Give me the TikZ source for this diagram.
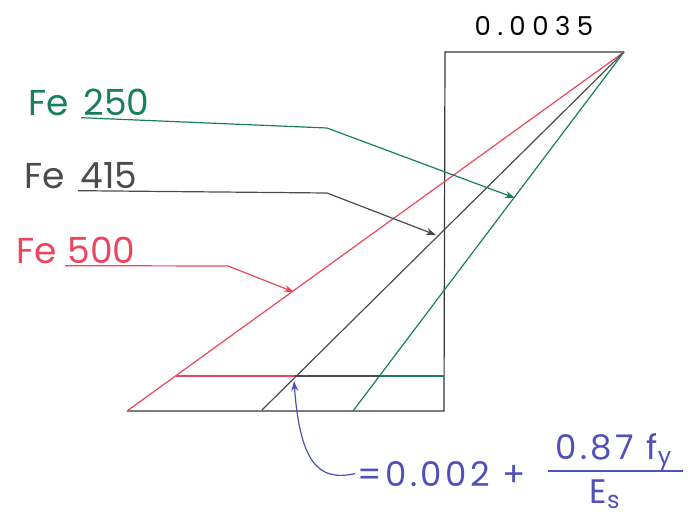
\documentclass[tikz,border=0pt]{standalone}
\usepackage{fontspec}
\setmainfont{Poppins}
\usetikzlibrary{arrows.meta}

\definecolor{feGreen}{RGB}{25,125,95}
\definecolor{feRed}{RGB}{235,70,95}
\definecolor{feGray}{RGB}{75,75,75}
\definecolor{feBlue}{RGB}{80,80,185}

\tikzset{
    grade/.style={font=\fontsize{18}{20}\selectfont, inner sep=1pt},
    strainval/.style={font=\fontsize{13}{15}\selectfont\addfontfeatures{LetterSpace=25}, inner sep=1pt},
    formula/.style={font=\fontsize{17}{19}\selectfont\addfontfeatures{LetterSpace=10}, text=feBlue, inner sep=1pt},
    leader/.style={->, line width=0.6pt},
}

\begin{document}
\begin{tikzpicture}[x=0.5pt, y=-0.5pt, line width=0.6pt, >={Stealth[length=5pt, width=3.5pt]}]

    \useasboundingbox (0,0) rectangle (698,515);

    % 1. Khung bien dang
    \coordinate (apex) at (624,52);
    \coordinate (topL) at (445,52);
    \coordinate (axisB) at (444,411);
    \coordinate (redB) at (127,411);
    \coordinate (grayB) at (262,410);
    \coordinate (greenB) at (353,411);
    \draw[feGray!70!black] (apex) -- (topL) -- (axisB) -- (redB);
    \node[strainval, anchor=base] (eps) at (534,35) {0.0035};

    % 2. Ba duong bien dang
    \draw[feRed] (apex) -- (redB);
    \draw[feGray] (apex) -- (grayB);
    \draw[feGreen] (apex) -- (greenB);

    % 3. Duong ngang tai bien dang chay
    \coordinate (redY) at (176,376);
    \coordinate (grayY) at (295,376);
    \coordinate (greenY) at (380,376);
    \coordinate (axisY) at (444,376);
    \draw[feRed] (redY) -- (grayY);
    \draw[feGray] (grayY) -- (greenY);
    \draw[feGreen] (greenY) -- (axisY);

    % 4. Nhan cac loai thep
    \node[grade, text=feGreen, anchor=base west] (fe250) at (81,115) {250};
    \node[grade, text=feGreen, anchor=base west] (fe250name) at (26,115) {Fe};
    \node[grade, text=feGray, anchor=base west] (fe415) at (78,188) {415};
    \node[grade, text=feGray, anchor=base west] (fe415name) at (22,188) {Fe};
    \node[grade, text=feRed, anchor=base west] (fe500) at (65,263) {500};
    \node[grade, text=feRed, anchor=base west] (fe500name) at (14,263) {Fe};

    \coordinate (kink250) at (327,128);
    \coordinate (tip250) at (515,198);
    \coordinate (kink415) at (327,193);
    \coordinate (tip415) at (436,235);
    \coordinate (kink500) at (228,266);
    \coordinate (tip500) at (294,292);
    \draw[leader, feGreen] (fe250.south west) -- (kink250) -- (tip250);
    \draw[leader, feGray] (fe415.south west) -- (kink415) -- (tip415);
    \draw[leader, feRed] (fe500.south west) -- (kink500) -- (tip500);

    % 5. Cong thuc bien dang thep
    \node[formula, anchor=base west] (eqLead) at (355,486) {=0.002 +};
    \node[formula, anchor=base] (eqNum) at (614,459) {0.87 f\textsubscript{y}};
    \node[formula, anchor=base] (eqDen) at (605,503) {E\textsubscript{s}};
    \coordinate (barL) at (548,471);
    \coordinate (barR) at (683,471);
    \draw[feBlue] (barL) -- (barR);

    \coordinate (tipY) at (294,381);
    \draw[leader, feBlue] (eqLead.west) .. controls (318,482) and (300,462) .. (tipY);

\end{tikzpicture}
\end{document}
